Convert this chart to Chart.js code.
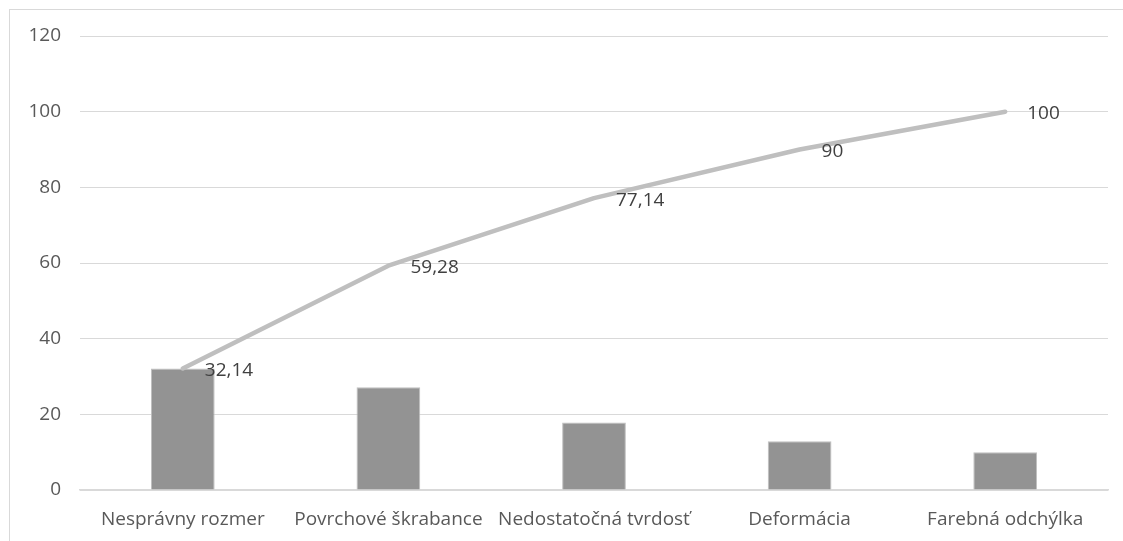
<!DOCTYPE html>
<html lang="sk">
<head>
<meta charset="UTF-8">
<title>Pareto</title>
<style>
  html, body { margin: 0; padding: 0; background: #fff; }
  #wrap { position: relative; width: 1123px; height: 541px; overflow: hidden; }
  #frame { position: absolute; left: 9px; top: 9px; width: 1200px; height: 600px; border: 1px solid #d9d9d9; box-sizing: border-box; }
  canvas { position: absolute; left: 0; top: 0; }
</style>
</head>
<body>
<div id="wrap">
  <div id="frame"></div>
  <canvas id="myChart" width="1123" height="541"></canvas>
</div>
<script src="https://cdn.jsdelivr.net/npm/chart.js"></script>
<script>
  const categories = ['Nesprávny rozmer', 'Povrchové škrabance', 'Nedostatočná tvrdosť', 'Deformácia', 'Farebná odchýlka']
  const shares = [32.14, 27.14, 17.86, 12.86, 10]
  const cumulative = [32.14, 59.28, 77.14, 90, 100]
  const cumulativeLabels = ['32,14', '59,28', '77,14', '90', '100']

  const FONT = '"Open Sans", "Noto Sans", sans-serif'
  const TEXT = '#595959'
  const SIZE = 19

  // labels to the right of the line points, like the Excel data labels
  const lineLabels = {
    id: 'lineLabels',
    afterDatasetsDraw(chart) {
      const meta = chart.getDatasetMeta(0)
      const ctx = chart.ctx
      ctx.save()
      ctx.font = SIZE + 'px ' + FONT
      ctx.fillStyle = '#404040'
      ctx.textAlign = 'left'
      ctx.textBaseline = 'middle'
      meta.data.forEach((pt, i) => {
        ctx.fillText(cumulativeLabels[i], pt.x + 22, pt.y + 2)
      })
      ctx.restore()
    }
  }

  new Chart(document.getElementById('myChart'), {
    data: {
      labels: categories,
      datasets: [
        {
          type: 'line',
          data: cumulative,
          borderColor: '#bfbfbf',
          borderWidth: 4.5,
          borderCapStyle: 'round',
          borderJoinStyle: 'round',
          pointRadius: 0,
          tension: 0,
          order: 0
        },
        {
          type: 'bar',
          data: shares,
          backgroundColor: '#939393',
          borderColor: '#bfbfbf',
          borderWidth: { top: 1, left: 1, right: 1, bottom: 0 },
          categoryPercentage: 1,
          barPercentage: 0.31,
          order: 1
        }
      ]
    },
    plugins: [lineLabels],
    options: {
      responsive: false,
      animation: false,
      layout: { padding: { top: 36, right: 15, left: 0, bottom: 0 } },
      plugins: { legend: { display: false }, tooltip: { enabled: false } },
      scales: {
        x: {
          grid: { display: false, drawTicks: false },
          border: { color: '#d9d9d9', width: 1.5 },
          ticks: { color: TEXT, font: { family: FONT, size: SIZE }, padding: 18, maxRotation: 0, autoSkip: false },
          afterFit(scale) { scale.height = 51 }
        },
        y: {
          min: 0,
          max: 120,
          ticks: { stepSize: 20, color: TEXT, font: { family: FONT, size: SIZE }, padding: 19 },
          grid: { color: '#d9d9d9', lineWidth: 1, drawTicks: false },
          border: { display: false },
          afterFit(scale) { scale.width = 80 }
        }
      }
    }
  })
</script>
</body>
</html>
